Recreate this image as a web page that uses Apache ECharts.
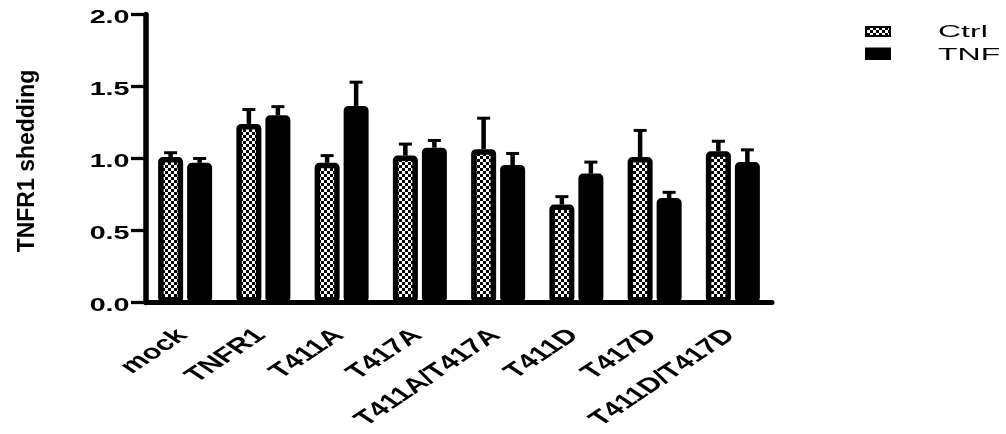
<!DOCTYPE html>
<html>
<head>
<meta charset="utf-8">
<script src="https://cdn.jsdelivr.net/npm/echarts@6/dist/echarts.min.js"></script>
<style>
  html, body { margin: 0; padding: 0; background: #fff; }
  #chart { width: 1006px; height: 434px; }
</style>
</head>
<body>
<div id="chart"></div>
<script>
const categories = ['mock', 'TNFR1', 'T411A', 'T417A', 'T411A/T417A', 'T411D', 'T417D', 'T411D/T417D'];
const ctrlMean = [1.01, 1.24, 0.97, 1.02, 1.065, 0.68, 1.01, 1.05];
const ctrlSem = [0.03, 0.10, 0.05, 0.08, 0.215, 0.055, 0.185, 0.07];
const tnfMean = [0.97, 1.30, 1.365, 1.075, 0.955, 0.895, 0.725, 0.975];
const tnfSem = [0.03, 0.06, 0.165, 0.05, 0.08, 0.08, 0.04, 0.085];
const yTicks = [0, 0.5, 1.0, 1.5, 2.0];
const seriesNames = ['Ctrl', 'TNF'];

const FONT = 'Arial, "Liberation Sans", sans-serif';

// checker pattern for the Ctrl bars
function checker(w, h) {
  const c = document.createElement('canvas');
  c.width = w * 2;
  c.height = h * 2;
  const ctx = c.getContext('2d');
  ctx.fillStyle = '#fff';
  ctx.fillRect(0, 0, c.width, c.height);
  ctx.fillStyle = '#000';
  ctx.fillRect(0, 0, w, h);
  ctx.fillRect(w, h, w, h);
  return c;
}
const checkerFill = { image: checker(3, 3), repeat: 'repeat' };

// upward error bars, shifted to sit on the bar of each group
function errorSeries(name, mean, sem, offset) {
  return {
    type: 'custom',
    name: name + ' err',
    z: 5,
    data: mean.map((m, i) => [i, m, m + sem[i]]),
    renderItem(params, api) {
      const top = api.coord([api.value(0), api.value(1)]);
      const end = api.coord([api.value(0), api.value(2)]);
      const x = top[0] + offset;
      return {
        type: 'group',
        children: [
          { type: 'line', shape: { x1: x, y1: top[1], x2: x, y2: end[1] }, style: { stroke: '#000', lineWidth: 4.5 } },
          { type: 'line', shape: { x1: x - 6.5, y1: end[1], x2: x + 6.5, y2: end[1] }, style: { stroke: '#000', lineWidth: 3 } }
        ]
      };
    }
  };
}

// text label, optionally stretched sideways like the original figure
function stretchedText(x, y, text, rotation, align, vAlign, size, weight, sx) {
  return {
    type: 'group',
    x, y,
    scaleX: sx,
    children: [{
      type: 'text',
      rotation,
      style: {
        text, align, verticalAlign: vAlign,
        fontFamily: FONT, fontSize: size, fontWeight: weight, fill: '#000'
      }
    }]
  };
}

const chart = echarts.init(document.getElementById('chart'));
chart.setOption({
  animation: false,
  backgroundColor: '#fff',
  grid: { left: 146, right: 234, top: 14.5, bottom: 131.5 },
  legend: { show: false, data: seriesNames },
  graphic: [
    stretchedText(28, 161, 'TNFR1 shedding', Math.PI / 2, 'center', 'middle', 23, 'bold', 1),
    { type: 'rect', shape: { x: 866, y: 27, width: 24, height: 9 }, style: { fill: checkerFill, stroke: '#000', lineWidth: 2 } },
    { type: 'rect', shape: { x: 865, y: 47.5, width: 26, height: 12.5 }, style: { fill: '#000' } },
    stretchedText(938, 32.7, seriesNames[0], 0, 'left', 'middle', 16, 'normal', 2),
    stretchedText(938, 56, seriesNames[1], 0, 'left', 'middle', 16, 'normal', 2)
  ],
  xAxis: {
    type: 'category',
    data: categories,
    axisLine: { lineStyle: { color: '#000', width: 5 } },
    axisTick: { alignWithLabel: true, length: 14, lineStyle: { color: '#000', width: 5.5 } },
    axisLabel: { show: false }
  },
  yAxis: {
    type: 'value',
    min: yTicks[0],
    max: yTicks[yTicks.length - 1],
    interval: 0.5,
    splitLine: { show: false },
    axisLine: { show: true, lineStyle: { color: '#000', width: 5.5 } },
    axisTick: { show: true, length: 15, lineStyle: { color: '#000', width: 3.3 } },
    axisLabel: { show: false }
  },
  series: [
    {
      type: 'bar',
      name: seriesNames[0],
      data: ctrlMean,
      barWidth: 25,
      barGap: '16%',
      itemStyle: { color: checkerFill, borderColor: '#000', borderWidth: 5.5, borderRadius: 2 }
    },
    {
      type: 'bar',
      name: seriesNames[1],
      data: tnfMean,
      barWidth: 25,
      itemStyle: { color: '#000', borderColor: '#000', borderWidth: 5.5, borderRadius: 2 }
    },
    errorSeries(seriesNames[0], ctrlMean, ctrlSem, -14.5),
    errorSeries(seriesNames[1], tnfMean, tnfSem, 14.5),
    {
      // y tick labels, placed by the value axis
      type: 'custom',
      name: 'ylabels',
      silent: true,
      data: yTicks.map(v => [0, v]),
      renderItem(params, api) {
        const p = api.coord([0, api.value(1)]);
        return stretchedText(params.coordSys.x - 16.5, p[1] + 3.5, api.value(1).toFixed(1), 0, 'right', 'middle', 18.5, 'bold', 1.55);
      }
    },
    {
      // category labels, rotated and then stretched like the original
      type: 'custom',
      name: 'xlabels',
      silent: true,
      data: categories.map((c, i) => [i, 0]),
      renderItem(params, api) {
        const i = api.value(0);
        const p = api.coord([i, 0]);
        return stretchedText(p[0] - 2.5, p[1] + 30, categories[i], Math.PI / 4, 'right', 'middle', 20.5, 'bold', 1.5);
      }
    }
  ]
});
</script>
</body>
</html>
